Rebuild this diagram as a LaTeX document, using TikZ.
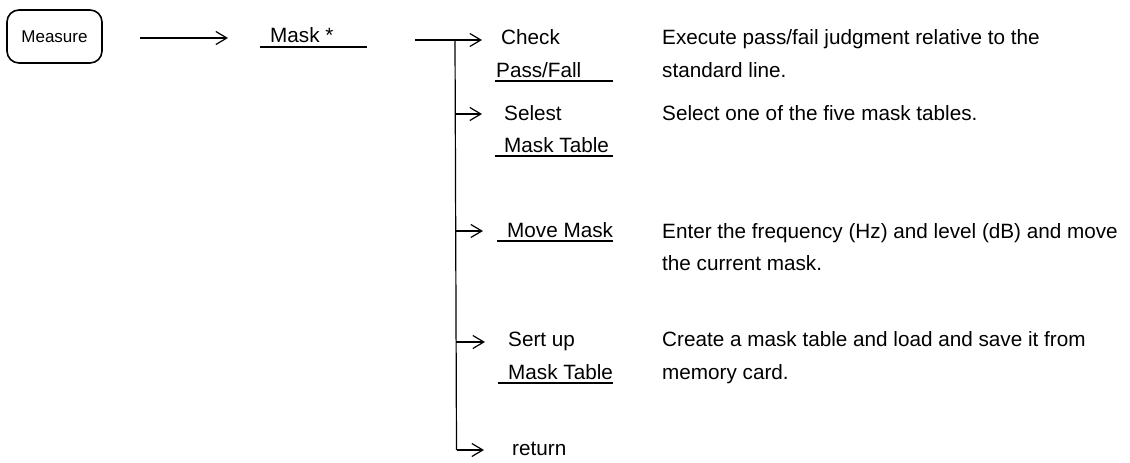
\documentclass[tikz,border=0pt]{standalone}
\usepackage{fontspec}
\setmainfont{Liberation Sans}
\usetikzlibrary{arrows.meta}
\begin{document}
\begin{tikzpicture}[x=1pt,y=-1pt,
  lbl/.style={inner sep=0pt, anchor=base west, font=\fontsize{20.7}{24}\selectfont},
  keybox/.style={draw, line width=1.6pt, rounded corners=12pt, minimum width=95pt, minimum height=53pt, inner sep=0pt, font=\fontsize{17}{20}\selectfont},
  arr/.style={-{Straight Barb[length=11pt,width=13pt,line width=1.2pt]}, line width=1.2pt},
  ul/.style={line width=1.3pt},
  trunkline/.style={line width=1.2pt}]
\useasboundingbox (0,0) rectangle (1130,463);
\fill[white] (0,0) rectangle (1130,463);

% key
\node[keybox] (measure) at (54.5,36.5) {Measure};
\node[lbl] (mask) at (270,42) {Mask *};
\draw[ul] (260,47) -- (367,47);

% connector coordinates
\coordinate (a1s) at (140,38);
\coordinate (a1e) at (228,38);
\coordinate (a2s) at (415,40);
\coordinate (trunk) at (455,40);
\coordinate (a2e) at (482,40);
\coordinate (b1) at (455,114);
\coordinate (b1e) at (482,114);
\coordinate (b2) at (455.5,231);
\coordinate (b2e) at (483,231);
\coordinate (b3) at (456,342);
\coordinate (b3e) at (485,342);
\coordinate (b4) at (456.5,450);
\coordinate (b4e) at (484,450);

\draw[arr] (a1s) -- (a1e);
\draw[arr] (a2s) -- (a2e);
\draw[trunkline] (trunk) -- (b4);
\draw[arr] (b1) -- (b1e);
\draw[arr] (b2) -- (b2e);
\draw[arr] (b3) -- (b3e);
\draw[arr] (b4) -- (b4e);

% menu labels
\node[lbl] (check) at (501,44) {Check};
\node[lbl] (pass) at (496,77) {Pass/Fall};
\draw[ul] (495,81) -- (613,81);
\node[lbl] (selest) at (504,120) {Selest};
\node[lbl] (mtab1) at (504,152) {Mask Table};
\draw[ul] (495,156) -- (613,156);
\node[lbl] (move) at (507,237) {Move Mask};
\draw[ul] (497,241) -- (613,241);
\node[lbl] (sert) at (508,346) {Sert up};
\node[lbl] (mtab2) at (508,379) {Mask Table};
\draw[ul] (498,383) -- (613,383);
\node[lbl] (ret) at (512,455) {return};

% descriptions
\node[lbl] (d1a) at (662,44) {Execute pass/fail judgment relative to the};
\node[lbl] (d1b) at (662,77) {standard line.};
\node[lbl] (d2) at (662,120) {Select one of the five mask tables.};
\node[lbl] (d3a) at (662,238) {Enter the frequency (Hz) and level (dB) and move};
\node[lbl] (d3b) at (662,270) {the current mask.};
\node[lbl] (d4a) at (662,346) {Create a mask table and load and save it from};
\node[lbl] (d4b) at (662,379) {memory card.};
\end{tikzpicture}
\end{document}
